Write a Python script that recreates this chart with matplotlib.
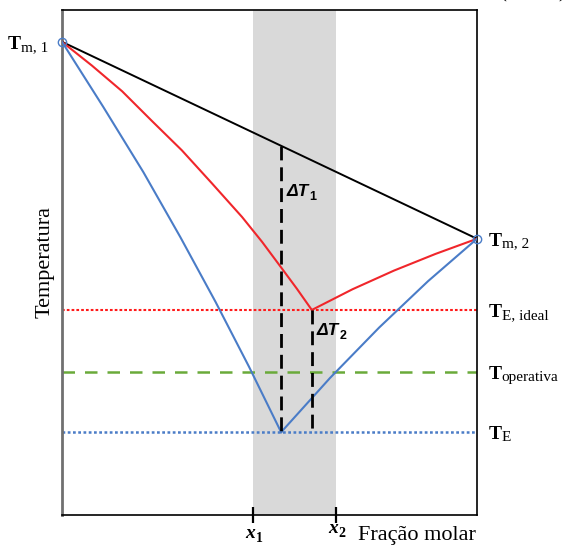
import matplotlib.pyplot as plt

# composição (fração molar) e temperatura (unidades arbitrárias)
Tm1 = 93.7
Tm2 = 54.7
TE_ideal = 40.6
T_oper = 28.3
TE = 16.4
xE = 0.528
xE_ideal = 0.602
x1 = 0.46
x2 = 0.66

# liquidus ideal (vermelho)
x_liq_ideal_1 = [0.0, 0.072, 0.145, 0.217, 0.289, 0.361, 0.434, 0.482, 0.530, 0.566, 0.602]
T_liq_ideal_1 = [93.7, 89.0, 83.9, 78.0, 72.2, 65.7, 59.0, 54.1, 48.8, 44.8, 40.6]
x_liq_ideal_2 = [0.602, 0.70, 0.80, 0.90, 1.0]
T_liq_ideal_2 = [40.6, 44.7, 48.4, 51.7, 54.7]

# liquidus real (azul)
x_liq_real_1 = [0.0, 0.0995, 0.196, 0.285, 0.370, 0.451, 0.528]
T_liq_real_1 = [93.7, 80.8, 67.9, 55.05, 42.2, 29.3, 16.4]
x_liq_real_2 = [0.528, 0.646, 0.764, 0.882, 1.0]
T_liq_real_2 = [16.4, 27.15, 37.1, 46.3, 54.7]

plt.rcParams['mathtext.fontset'] = 'custom'
plt.rcParams['mathtext.rm'] = 'Liberation Serif'
plt.rcParams['mathtext.bf'] = 'Liberation Serif:bold'

vermelho = '#f0262b'
azul = '#4a7cc7'
verde = '#6aaa3a'
serif = 'Liberation Serif'

fig = plt.figure(figsize=(5.66, 5.45), dpi=100)
ax = fig.add_axes([62 / 566, 30 / 545, 415 / 566, 505 / 545])
ax.set_xlim(0, 1)
ax.set_ylim(0, 100)

ax.axvspan(x1, x2, color='#d9d9d9', zorder=0, lw=0)

# linha reta entre os pontos de fusão
ax.plot([0, 1], [Tm1, Tm2], color='black', lw=1.4, zorder=3)
ax.plot(x_liq_ideal_1, T_liq_ideal_1, color=vermelho, lw=1.5, zorder=3)
ax.plot(x_liq_ideal_2, T_liq_ideal_2, color=vermelho, lw=1.5, zorder=3)
ax.plot(x_liq_real_1, T_liq_real_1, color=azul, lw=1.5, zorder=3)
ax.plot(x_liq_real_2, T_liq_real_2, color=azul, lw=1.5, zorder=3)

ax.axhline(TE_ideal, color='#ff1a1a', lw=1.5, ls=(0, (1.3, 1.0)), zorder=2)
ax.axhline(T_oper, color=verde, lw=1.8, ls=(0, (5, 4)), zorder=2)
ax.axhline(TE, color=azul, lw=1.8, ls=(0, (1.1, 1.0)), zorder=2)

T_reta_xE = Tm1 + (Tm2 - Tm1) * xE
ax.plot([xE, xE], [T_reta_xE, TE], color='black', lw=2, ls=(0, (5, 2.5)), zorder=4)
ax.plot([xE_ideal, xE_ideal], [TE_ideal, TE], color='black', lw=2, ls=(0, (5, 2.5)), zorder=4)

ax.plot([0, 1], [Tm1, Tm2], 'o', mfc='none', mec=azul, ms=6, mew=1, zorder=5, clip_on=False)

for s in ['top', 'right', 'bottom']:
    ax.spines[s].set_color('black')
    ax.spines[s].set_linewidth(1.2)
ax.spines['left'].set_color('#707070')
ax.spines['left'].set_linewidth(2)

ax.set_yticks([])
ax.set_xticks([x1, x2])
ax.set_xticklabels([])
ax.tick_params(axis='x', direction='inout', length=12, width=1.6, color='black')


def rotulo(x, y, base, sub, fam, tam, tam_sub, dx, dy, estilo, peso_sub, va='baseline'):
    ax.annotate(base, (x, y), xytext=(0, 0), textcoords='offset points', family=fam,
                fontsize=tam, weight='bold', style=estilo, ha='left', va='baseline',
                annotation_clip=False)
    ax.annotate(sub, (x, y), xytext=(dx, dy), textcoords='offset points', family=fam,
                fontsize=tam_sub, weight=peso_sub, ha='left', va='baseline',
                annotation_clip=False)


# temperaturas (T em negrito, índice normal)
for yy, sub in [(Tm2, 'm, 2'), (TE_ideal, 'E, ideal'), (T_oper, 'operativa'), (TE, 'E')]:
    rotulo(1.029, yy - 1.35, 'T', sub, serif, 14, 11, 9.2, -1.5, 'normal', 'normal')
rotulo(-0.13, Tm1 - 1.35, 'T', 'm, 1', serif, 14, 11, 9.2, -1.5, 'normal', 'normal')

ax.text(-0.042, 50, 'Temperatura', family=serif, fontsize=16, rotation=90,
        ha='center', va='center', clip_on=False)
ax.text(0.856, -0.04, 'Fração molar', family=serif, fontsize=16, transform=ax.transAxes,
        ha='center', va='center', clip_on=False)

rotulo(0.54, 63.2, 'ΔT', '1', 'Liberation Sans', 12.5, 9, 16.5, -3, 'italic', 'bold')
rotulo(0.614, 35.6, 'ΔT', '2', 'Liberation Sans', 12.5, 9, 16.5, -3, 'italic', 'bold')
rotulo(x1 - 0.018, -4.6, 'x', '1', serif, 14, 10, 7.5, -3, 'italic', 'bold')
rotulo(x2 - 0.018, -3.6, 'x', '2', serif, 14, 10, 7.5, -3, 'italic', 'bold')

fig.text(503 / 566, 1.004, '(', family=serif, fontsize=15, va='baseline', ha='center')
fig.text(562 / 566, 1.004, ')', family=serif, fontsize=15, va='baseline', ha='center')

plt.savefig('out.png', dpi=100)
